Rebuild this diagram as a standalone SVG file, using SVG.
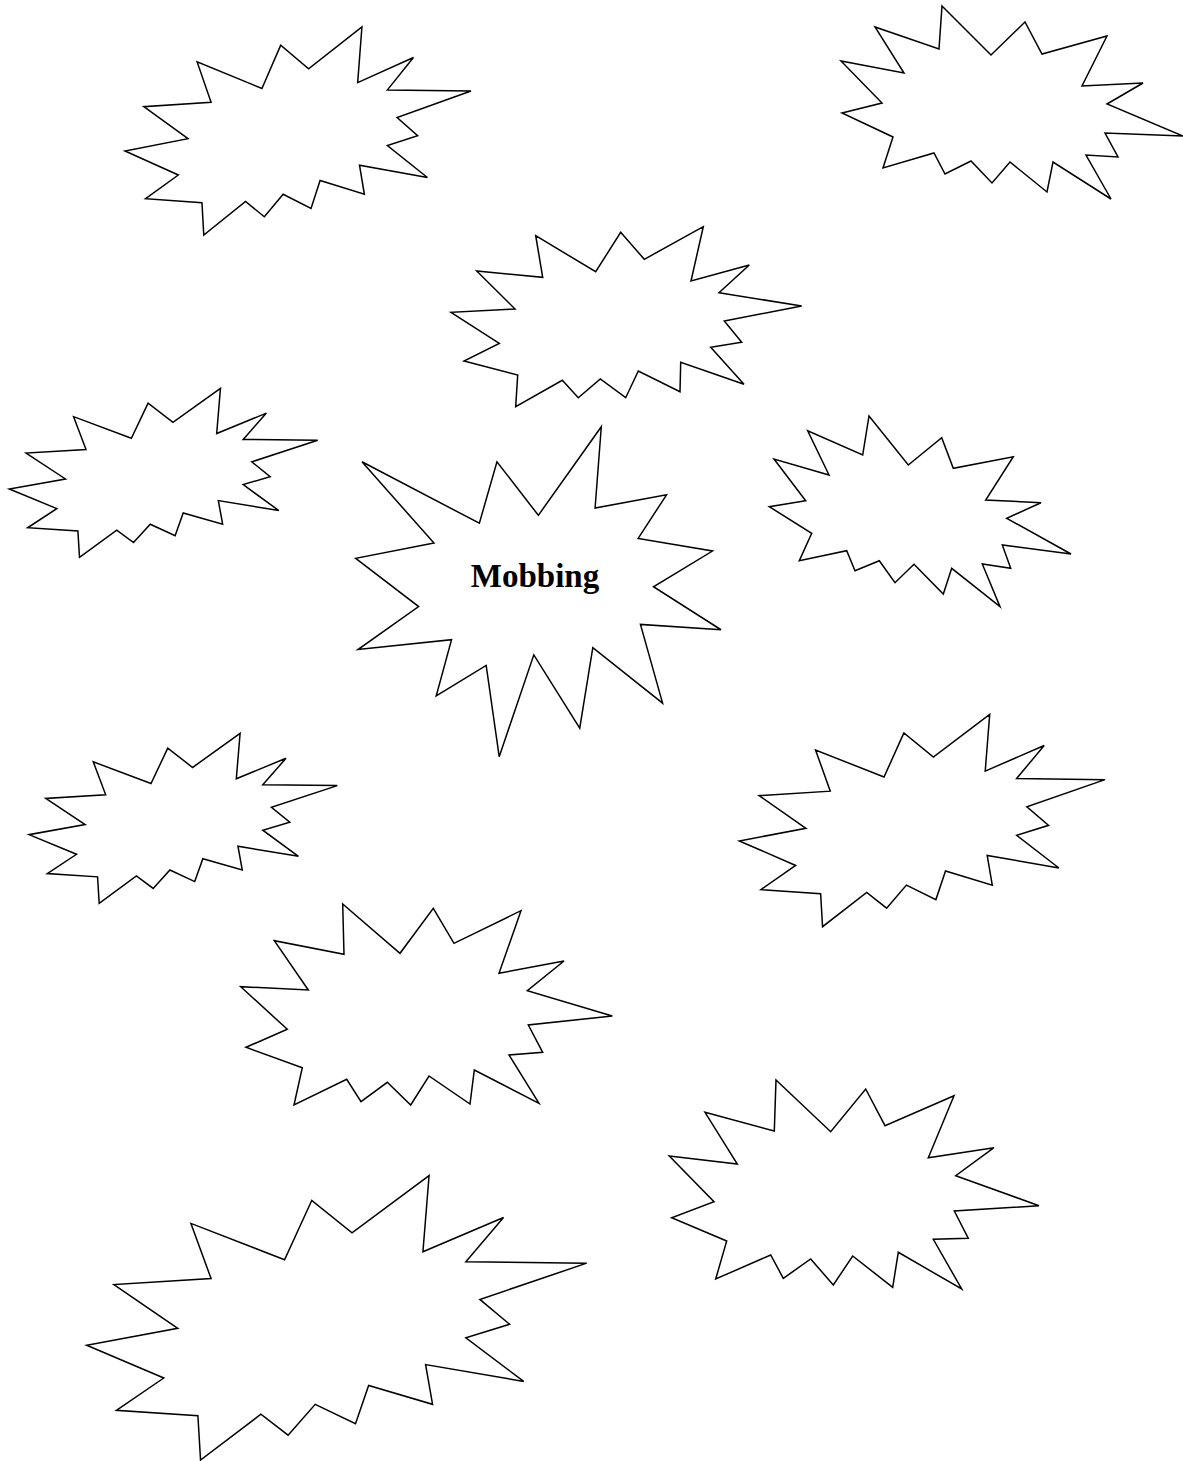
<svg xmlns="http://www.w3.org/2000/svg" xmlns:xlink="http://www.w3.org/1999/xlink" width="1183" height="1461" viewBox="0 0 1183 1461">
<style>
.b{fill:#fff;stroke:#000;stroke-width:1.5;stroke-linejoin:miter;vector-effect:non-scaling-stroke}
.t{font-family:"Liberation Serif","Times New Roman",serif;font-weight:bold;font-size:33px;fill:#000}
</style>
<defs>
<path id="seal2" class="b" vector-effect="non-scaling-stroke" d="M9722,1887 L8548,6383 L4503,3626 L5373,7816 L1174,8270 L3934,11592 L0,12877 L3329,15370 L1283,17825 L4804,18239 L4918,21600 L7525,18125 L8700,19712 L9872,17370 L11612,18842 L12180,15935 L14942,17370 L14640,14350 L18878,15632 L16380,12310 L18270,11290 L16985,9402 L21600,6645 L16380,6532 L18007,3172 L14525,5777 L14790,0 L11462,4342 Z"/>
<path id="seal1" class="b" vector-effect="non-scaling-stroke" d="M10800,5800 L14522,0 L14155,5325 L18380,4457 L16702,7315 L21097,8137 L17607,10475 L21600,13290 L16837,12942 L18145,18095 L14020,14457 L13247,19737 L10532,14935 L8485,21600 L7715,15627 L4762,17617 L5667,13937 L135,14587 L3722,11775 L0,8615 L4627,7617 L370,2295 L7312,6320 L8352,2295 Z"/>
</defs>
<g id="connectors"/>
<g id="burst1"><use xlink:href="#seal2" href="#seal2" transform="translate(125,27) scale(0.016019,0.0096296)"/></g>
<g id="burst2"><polygon class="b" points="942,6 991,55 1025,22 1042,54 1107,36 1082,86 1143,83 1107,104 1183,136 1105,133 1118,157 1086,155 1111,199 1053,162 1047,192 1010,162 992,183 971,161 945,174 934,153 883,168 893,137 842,113 882,103 841,61 904,73 875,27 939,49"/></g>
<g id="burst3"><polygon class="b" points="535.7,235.7 595.7,271.7 620.7,232.3 644.3,259.3 703.3,226.7 691,281 749.3,265 719,292.7 801.7,306 724.3,321 741.7,342.3 710.7,347.3 744,384.3 680.7,362.3 680,391.7 638.3,371 625.7,397.7 600.3,379 578.3,397.7 562.3,380.3 515.7,406.7 517.7,375 464,361 499.3,343.3 451,312.3 515,309 476.7,271 542.7,277.3"/></g>
<g id="burst4"><use xlink:href="#seal2" href="#seal2" transform="translate(9.3,388.3) scale(0.014278,0.0078241)"/></g>
<g id="burst-center"><use xlink:href="#seal1" href="#seal1" transform="translate(355.7,426.7) scale(0.016912,0.015278)"/>
<text class="t" x="535" y="587" text-anchor="middle">Mobbing</text></g>
<g id="burst6"><polygon class="b" points="869,416 908.3,465 941.7,437.7 953.3,468.3 1013.3,456.7 985.7,500 1041,502.7 1006.7,518.3 1071,554 1002.3,545 1010.7,568.3 982.3,564 1000,606.7 951.7,568.3 943.3,594 914,564.3 895,582.7 879.3,560.7 855,570.7 846.7,550.7 799.3,560.7 811.7,533.3 769.3,506.7 805.7,500.7 774,459 829,475 807.7,430.7 862.7,455"/></g>
<g id="burst7"><use xlink:href="#seal2" href="#seal2" transform="translate(29,733.3) scale(0.014273,0.0078704)"/></g>
<g id="burst8"><use xlink:href="#seal2" href="#seal2" transform="translate(739.3,714.3) scale(0.016931,0.0098333)"/></g>
<g id="burst9"><polygon class="b" points="342.7,904 400,953.3 433.3,908.3 454,943.3 521,910.7 499,973.3 564,961 527.3,990.7 612.3,1016 528.3,1025 542.7,1052.3 509,1055 539,1103.3 474.3,1070 470,1104 429,1076 410.7,1105 387.3,1082.3 361,1101.7 346.7,1079.3 294,1105 302.3,1067.7 246,1047.3 287.3,1029.3 240.7,986.7 308.3,990 274.3,940.7 344,954.3"/></g>
<g id="burst10"><polygon class="b" points="776,1080 830.7,1131.7 865.7,1089 885,1125.7 954,1095.7 928.3,1157.7 994,1147.7 955.7,1175.7 1039,1205.7 954.3,1211 968.3,1238.3 933.3,1239.3 961.7,1289 898.3,1252.3 892.7,1287.3 852.7,1256 833.3,1285 810.7,1259 783.3,1278.3 770.7,1255 715.7,1279 726.7,1241 671.7,1217.7 714,1201.7 669.3,1156 737.3,1164 705,1112.3 774.3,1131"/></g>
<g id="burst11"><use xlink:href="#seal2" href="#seal2" transform="translate(86.7,1175.7) scale(0.023148,0.013162)"/></g>
</svg>
